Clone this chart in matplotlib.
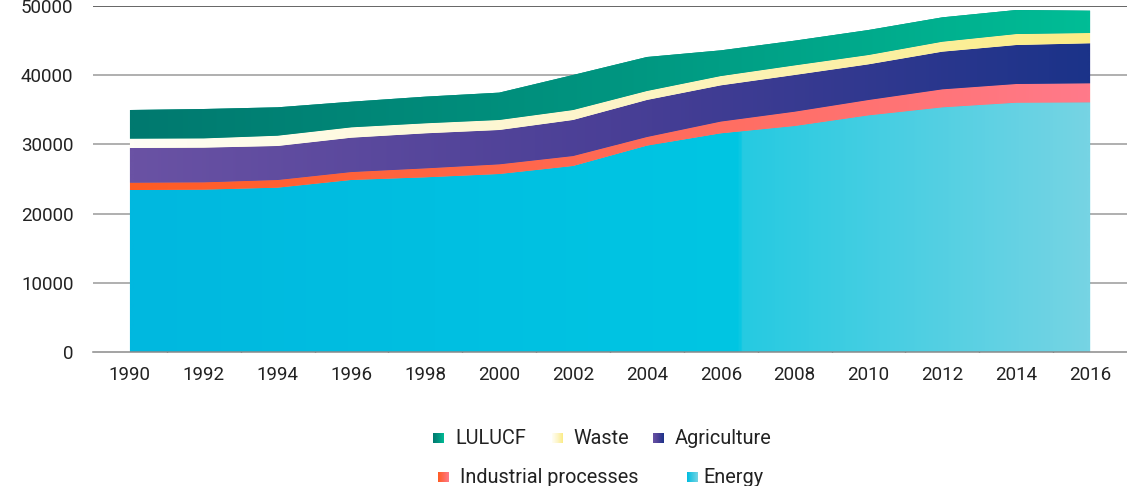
import numpy as np
import matplotlib
matplotlib.use('Agg')
import matplotlib.pyplot as plt
from matplotlib.colors import LinearSegmentedColormap

years = [1990, 1992, 1994, 1996, 1998, 2000, 2002, 2004, 2006, 2008, 2010, 2012, 2014, 2016]
energy = [23410, 23460, 23745, 24860, 25240, 25720, 26880, 29820, 31600, 32660, 34200, 35360, 36030, 36080]
industrial = [1060, 1060, 1115, 1150, 1300, 1400, 1440, 1250, 1700, 2070, 2220, 2600, 2700, 2750]
agriculture = [5010, 5010, 4910, 4960, 5060, 4960, 5210, 5350, 5230, 5300, 5150, 5440, 5630, 5780]
waste = [1350, 1340, 1490, 1500, 1450, 1450, 1440, 1300, 1350, 1390, 1350, 1440, 1590, 1490]
lulucf = [4140, 4245, 4100, 3700, 3850, 3950, 5060, 4910, 3710, 3570, 3610, 3520, 3470, 3220]

labels = ['LULUCF', 'Waste', 'Agriculture', 'Industrial processes', 'Energy']
yticks = [0, 10000, 20000, 30000, 40000, 50000]

# left -> right colour stops for the gradients
cmaps = {
    'Energy': LinearSegmentedColormap.from_list('en', [(0, '#00b8df'), (0.635, '#00c6e3'),
                                                       (0.636, '#25cae1'), (1, '#76d4e4')]),
    'Industrial processes': LinearSegmentedColormap.from_list('ip', ['#ff5c23', '#ff6a55', '#ff7a8a']),
    'Agriculture': LinearSegmentedColormap.from_list('ag', ['#6a52a4', '#4a3f96', '#1b3389']),
    'Waste': LinearSegmentedColormap.from_list('wa', ['#fffef5', '#fdf5c8', '#fbec85']),
    'LULUCF': LinearSegmentedColormap.from_list('lu', ['#00796f', '#009580', '#00bd96']),
}
legend_cmaps = {
    'Energy': LinearSegmentedColormap.from_list('len', ['#00bde0', '#76d4e4']),
}

plt.rcParams['font.family'] = ['Roboto', 'DejaVu Sans']

W, H = 1127, 486
fig = plt.figure(figsize=(W / 100, H / 100), dpi=100)
ax = fig.add_axes([93 / W, 1 - 352 / H, 1 - 93 / W, (352 - 6) / H])

x = np.arange(len(years))
series = [('Energy', energy), ('Industrial processes', industrial), ('Agriculture', agriculture),
          ('Waste', waste), ('LULUCF', lulucf)]
grad = np.linspace(0, 1, 600).reshape(1, -1)
base = np.zeros(len(years))
for name, vals in series:
    top = base + np.array(vals)
    cm = cmaps[name]
    ax.fill_between(x, base, top, facecolor=cm(0.5), edgecolor='none', zorder=2)
    poly = ax.fill_between(x, base, top, facecolor='none', edgecolor='none', zorder=3)
    im = ax.imshow(grad, cmap=cm, aspect='auto', extent=(x[0], x[-1], 0, 50000),
                   origin='lower', zorder=3, interpolation='bilinear')
    im.set_clip_path(poly.get_paths()[0], transform=ax.transData)
    base = top

for v in yticks[1:-1]:
    ax.axhline(v, color='#9a9a9a', lw=1.1, zorder=1)
ax.axhline(50000, color='#3c3c3c', lw=1.1, zorder=1)

ax.set_xlim(-0.5, 13.5)
ax.set_ylim(0, 50000)
for s in ['top', 'right', 'left']:
    ax.spines[s].set_visible(False)
ax.spines['bottom'].set_color('#8a8a8a')
ax.spines['bottom'].set_linewidth(1.1)
ax.spines['bottom'].set_zorder(4)

ax.set_xticks(x)
ax.set_xticklabels([str(y) for y in years])
ax.set_xticks(x[:-1] + 0.5, minor=True)
ax.tick_params(axis='x', which='major', length=0, pad=10, labelsize=13.5, labelcolor='#222222')
ax.tick_params(axis='x', which='minor', direction='in', length=6, width=1, color='#222222')
ax.set_yticks(yticks)
ax.set_yticklabels([str(v) for v in yticks])
ax.tick_params(axis='y', length=0, pad=14, labelsize=13.5, labelcolor='#222222')

# legend, two centred rows
legend_items = [
    ('LULUCF', 433, 455, 438),
    ('Waste', 552, 573, 438),
    ('Agriculture', 653, 675, 438),
    ('Industrial processes', 438, 460, 477),
    ('Energy', 687, 703, 477),
]
for name, mx, tx, cy in legend_items:
    sq = 10.5
    lax = fig.add_axes([mx / W, 1 - (cy + sq / 2) / H, sq / W, sq / H])
    lax.imshow(grad, cmap=legend_cmaps.get(name, cmaps[name]), aspect='auto', interpolation='bilinear')
    lax.axis('off')
    fig.text(tx / W, 1 - (cy + 5.5) / H, name, fontsize=14.3, color='#222222', va='baseline', ha='left')

fig.savefig('out.png', dpi=100)
